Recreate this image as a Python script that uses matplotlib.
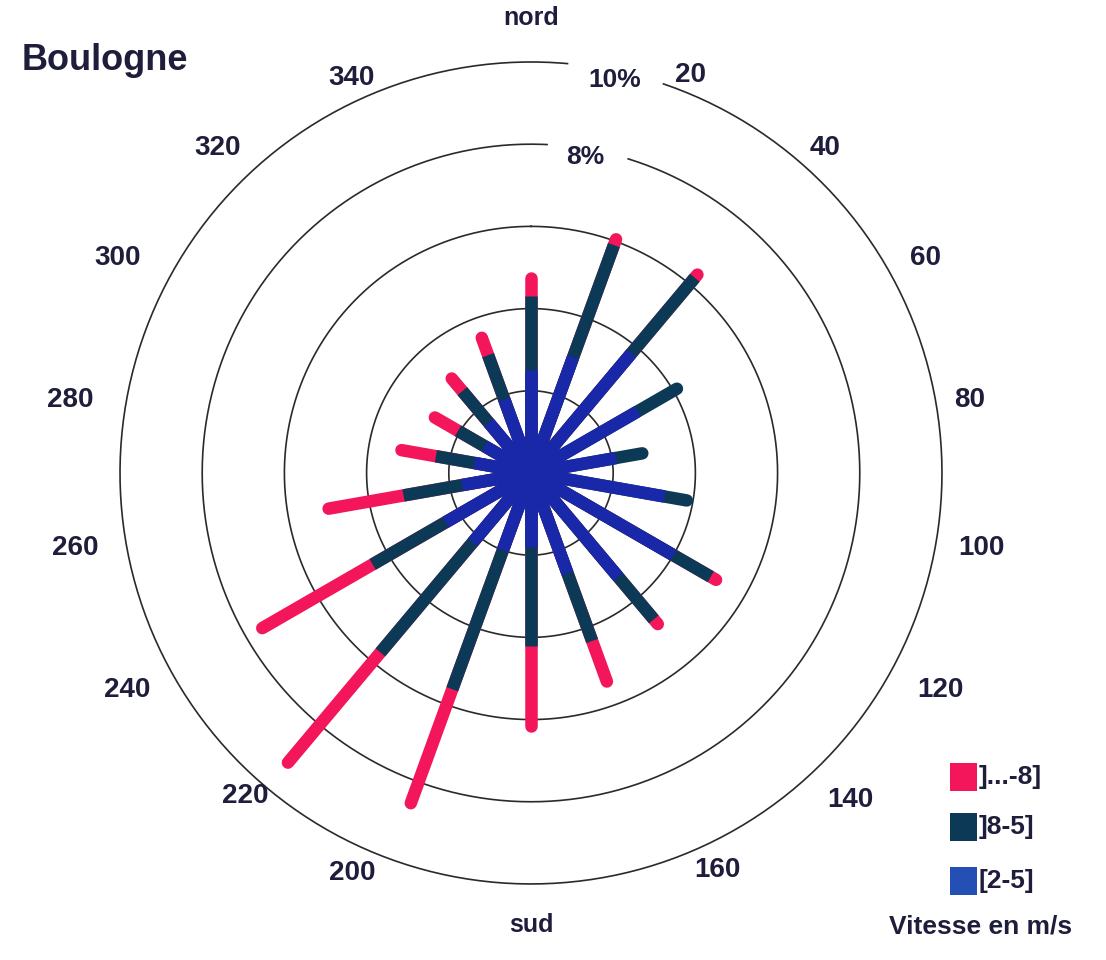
import numpy as np
import matplotlib
matplotlib.use('Agg')
import matplotlib.pyplot as plt
from matplotlib.patches import Rectangle

plt.rcParams['font.family'] = ['Liberation Sans', 'DejaVu Sans']

# wind directions (degrees from north, clockwise)
directions = np.arange(0, 360, 20)

# frequency (%) per speed class
speed_2_5 = [2.5, 3.0, 3.8, 3.0, 2.1, 3.3, 4.0, 3.3, 2.6, 1.8, 2.0, 2.2, 2.4, 1.7, 1.4, 1.3, 1.6, 1.9]
speed_5_8 = [1.8, 2.9, 2.4, 1.1, 0.65, 0.55, 1.05, 1.35, 1.75, 2.4, 3.6, 3.5, 2.05, 1.45, 0.95, 0.75, 1.0, 1.15]
speed_8_up = [0.45, 0.15, 0.1, 0.0, 0.0, 0.0, 0.15, 0.15, 1.05, 1.95, 2.95, 3.5, 3.1, 1.85, 0.85, 0.65, 0.4, 0.45]

rings = [2, 4, 6, 8, 10]
dir_labels = ['nord', '20', '40', '60', '80', '100', '120', '140', '160',
              'sud', '200', '220', '240', '260', '280', '300', '320', '340']
legend_labels = [']...-8]', ']8-5]', '[2-5]']

# where each direction label sits (angle in degrees, radius in %)
label_pos = [(0, 11.07), (21.8, 10.43), (42.1, 10.66), (61.4, 10.92), (80.6, 10.83),
             (99.4, 11.12), (117.9, 11.26), (135.7, 11.12), (154.8, 10.68), (180, 11.0),
             (204.1, 10.66), (221.5, 10.5), (241.8, 11.16), (260.7, 11.24), (279, 11.36),
             (297.5, 11.33), (316.1, 10.98), (335.6, 10.55)]

red = '#f3165a'
teal = '#0c3a56'
blue = '#1828a8'
txt = '#1e1e3c'

fig = plt.figure(figsize=(11.06, 9.6), dpi=100)
ax = fig.add_axes([0.1085, 0.0792, 0.7432, 0.85625], projection='polar')
ax.set_theta_zero_location('N')
ax.set_theta_direction(-1)
ax.set_ylim(0, 10)
ax.axis('off')

# rings (8% and 10% are opened where their label sits)
gaps = {8: (2.8, 17.2), 10: (5.1, 18.8)}
for r in rings:
    if r in gaps:
        a0, a1 = gaps[r]
        th = np.radians(np.linspace(a1, 360 + a0, 400))
    else:
        th = np.linspace(0, 2 * np.pi, 400)
    ax.plot(th, np.full_like(th, r), color='#2a2a2a', lw=1.2, clip_on=False, zorder=1)

ax.text(np.radians(12), 9.78, '10%', fontsize=19, fontweight='bold', color=txt,
        ha='center', va='center')
ax.text(np.radians(9.7), 7.8, '8%', fontsize=19, fontweight='bold', color=txt,
        ha='center', va='center')

# stacked bars drawn as thick lines
theta = np.radians(directions)
c1 = np.array(speed_2_5)
c2 = c1 + np.array(speed_5_8)
c3 = c2 + np.array(speed_8_up)
lw = 9
for i, t in enumerate(theta):
    if speed_8_up[i] > 0:
        ax.plot([t, t], [0, c3[i]], color=red, lw=lw, solid_capstyle='round', zorder=3)
        cap = 'butt'
    else:
        cap = 'round'
    ax.plot([t, t], [0, c2[i]], color=teal, lw=lw, solid_capstyle=cap, zorder=4)
    ax.plot([t, t], [0, c1[i]], color=blue, lw=lw, solid_capstyle='butt', zorder=5)

# direction labels
for (a, rr), lab in zip(label_pos, dir_labels):
    size = 18 if lab in ('nord', 'sud') else 20
    ax.text(np.radians(a), rr, lab, fontsize=size, fontweight='bold', color=txt,
            ha='center', va='center')

fig.text(22 / 1106, 1 - 60 / 960, 'Boulogne', fontsize=26, fontweight='bold',
         color=txt, ha='left', va='center')

# legend
W, H = 1106, 960
for k, (lab, col) in enumerate(zip(legend_labels, [red, teal, '#2450b6'])):
    yc = [777, 827, 881][k]
    fig.add_artist(Rectangle((950 / W, 1 - (yc + 14) / H), 27 / W, 28 / H,
                             transform=fig.transFigure, facecolor=col, edgecolor='none'))
    fig.text(979 / W, 1 - yc / H, lab, fontsize=19, fontweight='bold', color=txt,
             ha='left', va='center')
fig.text(981 / W, 1 - 927 / H, 'Vitesse en m/s', fontsize=19, fontweight='bold',
         color=txt, ha='center', va='center')

fig.savefig('out.png', dpi=100, facecolor='white')
